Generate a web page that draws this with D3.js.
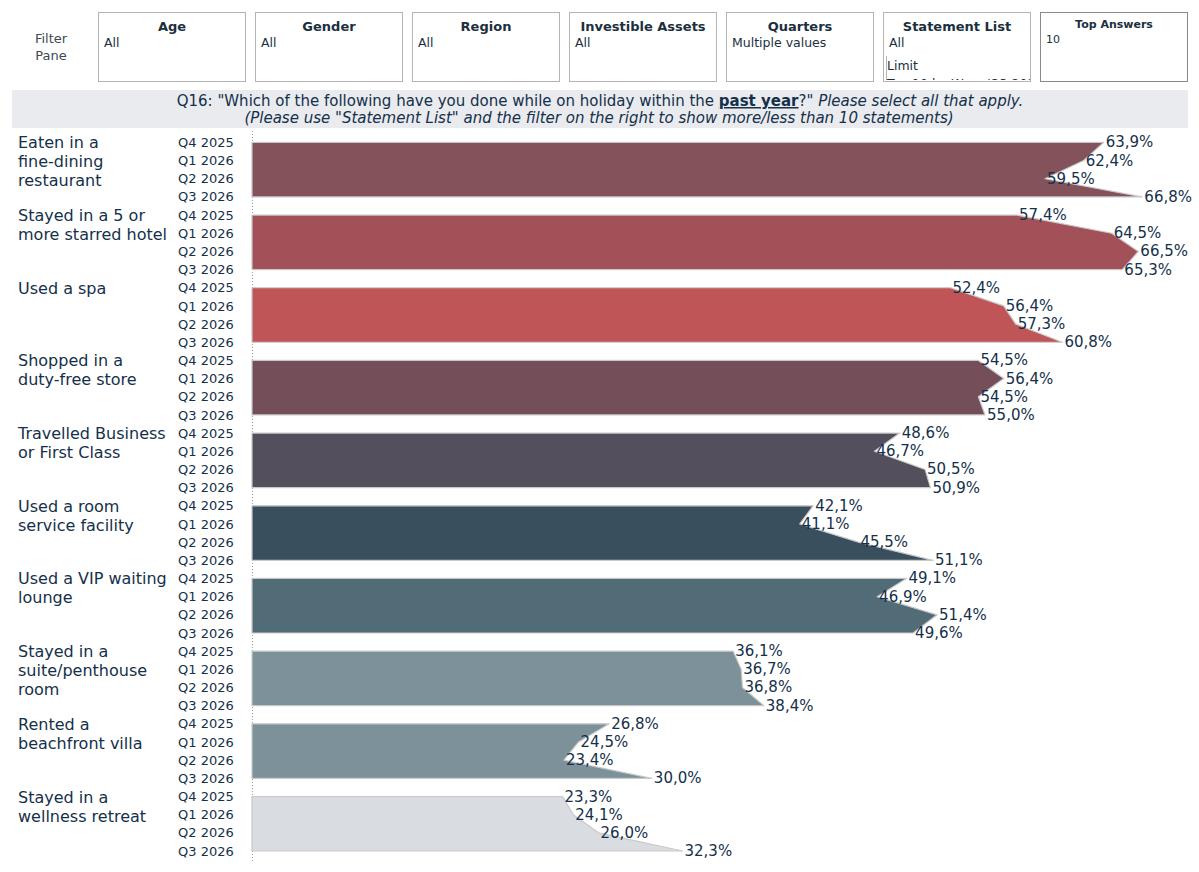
<!DOCTYPE html>
<html>
<head>
<meta charset="utf-8">
<script src="https://cdn.jsdelivr.net/npm/d3@7"></script>
<style>
  html, body { margin: 0; padding: 0; background: #fff; }
  svg { display: block; font-family: "DejaVu Sans", sans-serif; }
</style>
</head>
<body>
<svg id="chart" width="1199" height="872"></svg>
<script>
// ---------- DATA ----------
const categories = [
  "Eaten in a fine-dining restaurant",
  "Stayed in a 5 or more starred hotel",
  "Used a spa",
  "Shopped in a duty-free store",
  "Travelled Business or First Class",
  "Used a room service facility",
  "Used a VIP waiting lounge",
  "Stayed in a suite/penthouse room",
  "Rented a beachfront villa",
  "Stayed in a wellness retreat"
];
const categoryLines = [
  ["Eaten in a", "fine-dining", "restaurant"],
  ["Stayed in a 5 or", "more starred hotel"],
  ["Used a spa"],
  ["Shopped in a", "duty-free store"],
  ["Travelled Business", "or First Class"],
  ["Used a room", "service facility"],
  ["Used a VIP waiting", "lounge"],
  ["Stayed in a", "suite/penthouse", "room"],
  ["Rented a", "beachfront villa"],
  ["Stayed in a", "wellness retreat"]
];
const quarters = ["Q4 2025", "Q1 2026", "Q2 2026", "Q3 2026"];
const values = [
  [63.9, 62.4, 59.5, 66.8],
  [57.4, 64.5, 66.5, 65.3],
  [52.4, 56.4, 57.3, 60.8],
  [54.5, 56.4, 54.5, 55.0],
  [48.6, 46.7, 50.5, 50.9],
  [42.1, 41.1, 45.5, 51.1],
  [49.1, 46.9, 51.4, 49.6],
  [36.1, 36.7, 36.8, 38.4],
  [26.8, 24.5, 23.4, 30.0],
  [23.3, 24.1, 26.0, 32.3]
];
const colors = ["#84525a", "#a35159", "#c05558", "#744f5a", "#534f5c",
                "#3a4f5d", "#516b77", "#7c9199", "#7c9199", "#d9dde1"];
const filterTitles = ["Age", "Gender", "Region", "Investible Assets", "Quarters", "Statement List", "Top Answers"];
const filterValues = ["All", "All", "All", "All", "Multiple values", "All", "10"];

// ---------- DRAW ----------
const svg = d3.select("#chart");
const textCol = "#15304a";

// Filter pane
svg.append("text").attr("x", 51).attr("y", 43).attr("text-anchor", "middle")
  .attr("font-size", 13).attr("fill", "#3b4a55").text("Filter");
svg.append("text").attr("x", 51).attr("y", 60).attr("text-anchor", "middle")
  .attr("font-size", 13).attr("fill", "#3b4a55").text("Pane");

const fx = d3.scaleBand().domain(filterTitles).range([98, 1188]).paddingInner(9 / 157).paddingOuter(0);
const defs = svg.append("defs");
filterTitles.forEach((t, i) => {
  const x0 = fx(t), w = fx.bandwidth();
  const last = i === filterTitles.length - 1;
  svg.append("rect").attr("x", x0 + 0.5).attr("y", 12.5).attr("width", w - 1).attr("height", 69)
    .attr("fill", "#fff").attr("stroke", last ? "#8a8a8a" : "#b4b4b4").attr("stroke-width", 1);
  svg.append("text").attr("x", x0 + w / 2).attr("y", last ? 28 : 31).attr("text-anchor", "middle")
    .attr("font-size", last ? 11 : 13).attr("font-weight", "bold").attr("fill", "#1b2f3e").text(t);
  svg.append("text").attr("x", x0 + 6).attr("y", last ? 43 : 47)
    .attr("font-size", last ? 11 : 12.5).attr("fill", "#1b2f3e").text(filterValues[i]);
  if (t === "Statement List") {
    defs.append("clipPath").attr("id", "slclip").append("rect")
      .attr("x", x0 + 1).attr("y", 13).attr("width", w - 2).attr("height", 67);
    const g = svg.append("g").attr("clip-path", "url(#slclip)");
    g.append("line").attr("x1", x0 + 3.5).attr("x2", x0 + 3.5).attr("y1", 56).attr("y2", 81)
      .attr("stroke", "#b4b4b4");
    g.append("text").attr("x", x0 + 4).attr("y", 70).attr("font-size", 12.5).attr("fill", "#1b2f3e").text("Limit");
    g.append("text").attr("x", x0 + 4).attr("y", 88).attr("font-size", 12.5).attr("fill", "#1b2f3e").text("Top 10 by Wave/Q3 2026");
  }
});

// Title band
svg.append("rect").attr("x", 12).attr("y", 90).attr("width", 1176).attr("height", 38).attr("fill", "#e9ebef");
const t1 = svg.append("text").attr("x", 600).attr("y", 106).attr("text-anchor", "middle")
  .attr("font-size", 15).attr("fill", textCol);
t1.append("tspan").text("Q16: \"Which of the following have you done while on holiday within the ");
t1.append("tspan").attr("font-weight", "bold").attr("text-decoration", "underline").text("past year");
t1.append("tspan").text("?\" ");
t1.append("tspan").attr("font-style", "italic").text("Please select all that apply.");
svg.append("text").attr("x", 599).attr("y", 123).attr("text-anchor", "middle")
  .attr("font-size", 15).attr("font-style", "italic").attr("fill", textCol)
  .text("(Please use \"Statement List\" and the filter on the right to show more/less than 10 statements)");

// Scales
const rowKeys = [];
categories.forEach((c, ci) => quarters.forEach((q, qi) => rowKeys.push(ci + "|" + qi)));
const y = d3.scaleBand().domain(rowKeys).range([133.3, 860.1]).padding(0);
const yc = (ci, qi) => y(ci + "|" + qi) + y.bandwidth() / 2;
const x = d3.scaleLinear().domain([0, 70]).range([252, 1185]);

// Dotted zero line
svg.append("line").attr("x1", x(0) + 0.5).attr("x2", x(0) + 0.5).attr("y1", 131).attr("y2", 861)
  .attr("stroke", "#9a9a9a").attr("stroke-dasharray", "1,2").attr("stroke-width", 1);

// Areas
const area = d3.area()
  .x0(x(0)).x1(d => x(d.v)).y(d => d.y).curve(d3.curveLinear);

categories.forEach((c, ci) => {
  const pts = values[ci].map((v, qi) => ({ v, y: yc(ci, qi) }));
  svg.append("path").datum(pts).attr("d", area)
    .attr("fill", colors[ci]).attr("stroke", "#c9c9c9").attr("stroke-width", 1.2)
    .attr("stroke-linejoin", "round");
  pts.forEach(p => {
    svg.append("text").attr("x", x(p.v) + 2).attr("y", p.y + 5)
      .attr("font-size", 15).attr("fill", textCol)
      .text(d3.format(".1f")(p.v).replace(".", ",") + "%");
  });
  quarters.forEach((q, qi) => {
    svg.append("text").attr("x", 178).attr("y", yc(ci, qi) + 4.6)
      .attr("font-size", 13).attr("fill", textCol).text(q);
  });
  const ct = svg.append("text").attr("x", 18).attr("y", yc(ci, 0) + 6)
    .attr("font-size", 16).attr("fill", textCol);
  categoryLines[ci].forEach((ln, li) => {
    ct.append("tspan").attr("x", 18).attr("dy", li === 0 ? 0 : 19).text(ln);
  });
});
</script>
</body>
</html>
